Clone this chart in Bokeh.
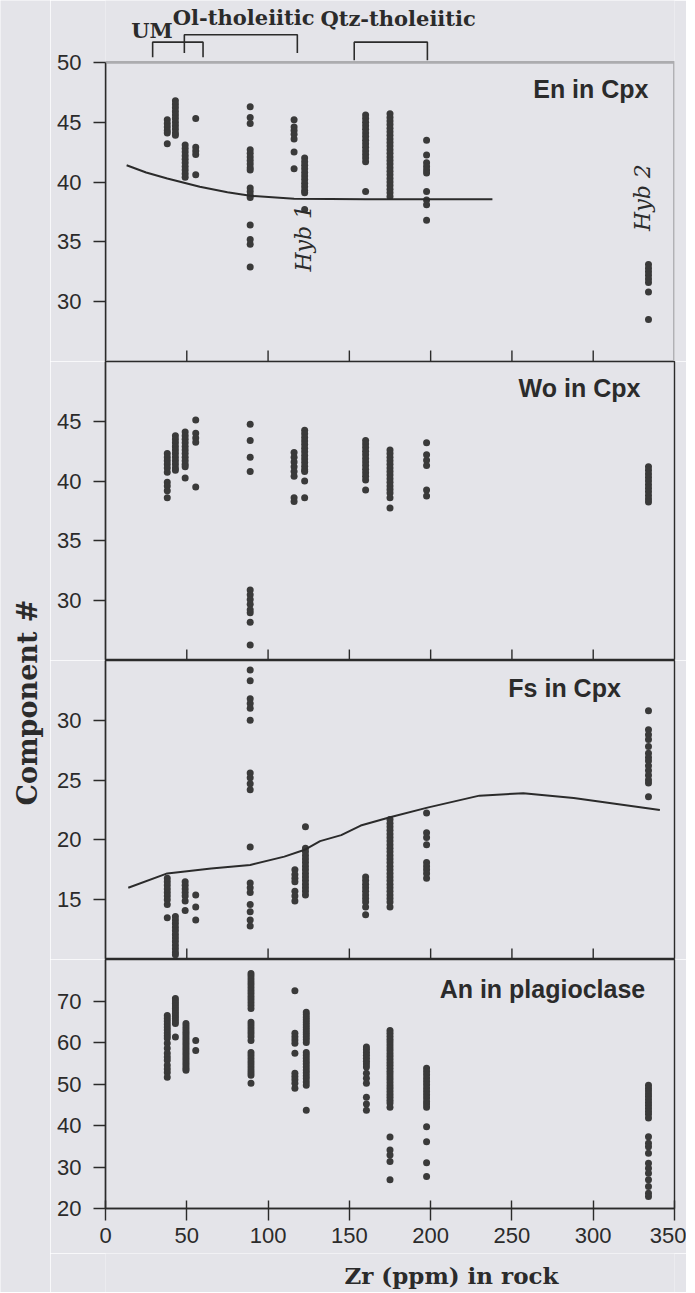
import math
from bokeh.plotting import figure
from bokeh.layouts import column, row
from bokeh.models import Range1d, FixedTicker, Label, BoxAnnotation
from bokeh.embed import file_html
from bokeh.resources import INLINE
from bokeh.core.properties import value

# ---------------- data ----------------
x_ticks = [0, 50, 100, 150, 200, 250, 300, 350]
en_ticks = [30, 35, 40, 45, 50]
wo_ticks = [30, 35, 40, 45]
fs_ticks = [15, 20, 25, 30]
an_ticks = [20, 30, 40, 50, 60, 70]

groups = ["UM", "Ol-tholeiitic", "Qtz-tholeiitic"]
group_zr_lo = [29, 48.5, 153]
group_zr_hi = [60, 118, 198]

# En in Cpx: Zr of each sample column, and its values
en_zr = [38, 43, 49, 55.5, 89, 116, 122.5, 160, 175, 197.5, 334]
en_vals = [
    [45.2, 44.9, 44.6, 44.3, 44.1, 43.2],
    [46.8, 46.5, 46.2, 45.9, 45.6, 45.3, 45.0, 44.7, 44.4, 44.1, 43.9],
    [43.1, 42.8, 42.5, 42.2, 41.9, 41.6, 41.3, 41.0, 40.7, 40.4],
    [45.3, 42.9, 42.6, 42.3, 40.6],
    [46.3, 45.4, 44.9, 42.7, 42.4, 42.1, 41.8, 41.5, 41.2, 41.0, 39.5, 39.2, 38.9, 38.7, 36.4, 35.2, 34.8, 32.9],
    [45.2, 44.6, 44.3, 44.0, 43.6, 42.5, 41.1],
    [42.0, 41.7, 41.4, 41.1, 40.8, 40.5, 40.2, 39.9, 39.6, 39.3, 39.1, 37.7],
    [45.6, 45.3, 45.0, 44.7, 44.4, 44.1, 43.8, 43.5, 43.2, 42.9, 42.6, 42.3, 42.0, 41.7, 39.2],
    [45.7, 45.4, 45.1, 44.8, 44.5, 44.2, 43.9, 43.6, 43.3, 43.0, 42.7, 42.4, 42.1, 41.8, 41.5, 41.2,
     40.9, 40.6, 40.3, 40.0, 39.7, 39.4, 39.1, 38.8],
    [43.5, 42.25, 41.6, 41.3, 41.0, 40.75, 39.2, 38.5, 38.1, 36.8],
    [33.1, 32.8, 32.5, 32.2, 31.9, 31.6, 30.8, 28.5],
]
en_curve_zr = [13, 25, 38, 58, 75, 89, 116, 160, 238]
en_curve_val = [41.4, 40.8, 40.3, 39.6, 39.15, 38.85, 38.6, 38.55, 38.55]

# Wo in Cpx
wo_zr = [38, 43, 49, 55.5, 89, 116, 122.5, 160, 175, 197.5, 334]
wo_vals = [
    [42.3, 42.0, 41.7, 41.4, 41.1, 40.75, 39.9, 39.6, 39.2, 38.6],
    [43.8, 43.5, 43.2, 42.9, 42.6, 42.3, 42.0, 41.7, 41.4, 41.1, 40.9],
    [44.1, 43.8, 43.5, 43.2, 42.9, 42.6, 42.3, 42.0, 41.7, 41.4, 41.2, 40.25],
    [45.1, 44.0, 43.6, 43.25, 39.5],
    [44.75, 43.4, 42.0, 40.8, 30.9, 30.5, 30.1, 29.7, 29.25, 29.0, 28.2, 26.3],
    [42.4, 42.0, 41.6, 41.2, 40.8, 40.4, 38.6, 38.3],
    [44.25, 43.95, 43.65, 43.35, 43.05, 42.75, 42.45, 42.15, 41.85, 41.55, 41.25, 40.95, 40.8, 40.0, 38.6],
    [43.4, 43.1, 42.8, 42.5, 42.2, 41.9, 41.6, 41.3, 41.0, 40.7, 40.4, 40.1, 39.25],
    [42.6, 42.3, 42.0, 41.7, 41.4, 41.1, 40.8, 40.5, 40.2, 39.9, 39.6, 39.3, 39.0, 38.6, 37.75],
    [43.2, 42.2, 41.75, 41.3, 39.25, 38.75],
    [41.2, 40.9, 40.6, 40.3, 40.0, 39.7, 39.4, 39.1, 38.8, 38.5, 38.25],
]

# Fs in Cpx
fs_zr = [38, 43, 49, 55.5, 89, 116.5, 123, 160, 175, 197.5, 334]
fs_vals = [
    [16.8, 16.5, 16.2, 15.9, 15.6, 15.3, 15.0, 14.6, 13.5],
    [13.6, 13.3, 13.0, 12.7, 12.4, 12.1, 11.8, 11.5, 11.2, 10.9, 10.6, 10.4],
    [16.5, 16.2, 15.9, 15.6, 15.3, 14.9, 14.1],
    [15.4, 14.4, 13.3],
    [34.2, 33.3, 31.8, 31.4, 31.0, 30.0, 25.6, 25.2, 24.7, 24.2, 19.4, 16.4, 16.0, 15.6, 14.6, 14.0, 13.3, 12.8],
    [17.5, 17.1, 16.8, 16.5, 15.7, 15.3, 14.9],
    [21.1, 19.3, 19.0, 18.7, 18.4, 18.1, 17.8, 17.5, 17.2, 16.9, 16.6, 16.3, 16.0, 15.7, 15.4],
    [16.9, 16.6, 16.3, 16.0, 15.7, 15.4, 15.1, 14.8, 14.4, 13.75],
    [21.7, 21.4, 21.1, 20.8, 20.5, 20.2, 19.9, 19.6, 19.3, 19.0, 18.7, 18.4, 18.1, 17.8, 17.5, 17.2,
     16.9, 16.6, 16.3, 16.0, 15.7, 15.4, 15.1, 14.8, 14.4],
    [22.25, 20.6, 20.2, 19.6, 18.1, 17.8, 17.5, 17.2, 16.8],
    [30.8, 29.2, 28.8, 28.4, 27.8, 27.25, 26.9, 26.6, 26.2, 25.8, 25.4, 25.0, 24.75, 23.6],
]
fs_curve_zr = [14, 38, 65, 89, 110, 123, 132, 145, 157, 175, 198, 230, 257, 288, 341]
fs_curve_val = [16.0, 17.2, 17.6, 17.9, 18.6, 19.2, 19.9, 20.4, 21.2, 21.9, 22.7, 23.7, 23.9, 23.5, 22.5]

# An in plagioclase
an_zr = [38, 43, 49.5, 55.5, 89.5, 116.5, 123.5, 160.5, 175, 197.5, 334]
an_vals = [
    [66.5, 65.8, 65.1, 64.4, 63.7, 63.0, 62.3, 61.6, 61.0, 59.8, 58.6, 57.4, 56.5, 55.7, 54.5, 53.6, 52.8, 51.6],
    [70.6, 70.0, 69.4, 68.8, 68.2, 67.6, 67.0, 66.4, 65.8, 65.2, 64.6, 61.3],
    [64.6, 64.0, 63.4, 62.8, 62.2, 61.6, 61.0, 60.4, 59.8, 59.2, 58.6, 58.0, 57.4, 56.8, 56.2, 55.6,
     55.0, 54.4, 53.8, 53.3],
    [60.5, 58.1],
    [76.6, 76.0, 75.3, 74.6, 73.9, 73.2, 72.5, 71.8, 71.1, 70.4, 69.7, 69.0, 68.2, 64.9, 64.2, 63.5,
     62.8, 62.1, 61.4, 60.5, 57.6, 56.9, 56.2, 55.5, 54.8, 54.1, 53.4, 52.7, 52.1, 50.2],
    [72.5, 62.2, 61.4, 60.6, 59.8, 57.4, 52.6, 51.8, 51.0, 50.2, 49.0],
    [67.3, 66.7, 66.1, 65.5, 64.9, 64.3, 63.7, 63.1, 62.5, 61.9, 61.3, 60.7, 60.0, 57.6, 56.9, 56.2,
     55.5, 54.8, 54.1, 53.4, 52.7, 52.0, 51.3, 50.5, 49.7, 43.7],
    [58.9, 58.3, 57.6, 56.9, 56.2, 55.5, 54.8, 54.1, 52.6, 51.4, 50.2, 46.8, 45.2, 43.7],
    [62.9, 62.2, 61.5, 60.8, 60.1, 59.4, 58.7, 58.0, 57.3, 56.6, 55.9, 55.2, 54.5, 53.8, 53.1, 52.4,
     51.7, 51.0, 50.3, 49.6, 48.9, 48.2, 47.5, 46.8, 46.1, 45.4, 44.4, 37.2, 34.1, 32.9, 31.3, 26.9],
    [53.8, 53.0, 52.2, 51.4, 50.6, 49.8, 49.0, 48.2, 47.4, 46.6, 45.8, 45.1, 44.4, 39.7, 36.1, 31.0, 27.7],
    [49.7, 49.0, 48.3, 47.6, 46.9, 46.2, 45.5, 44.8, 44.1, 43.4, 42.7, 41.8, 37.3, 35.7, 34.9, 33.3,
     30.9, 29.7, 28.5, 26.9, 25.3, 23.7, 22.9],
]

# ---------------- styling / layout ----------------
BG = "#e4e4e9"
INK = "#2b2b2b"
DOT = "#3a3a3a"
SANS = "Liberation Sans"
SERIF = "DejaVu Serif"
LW = 1.4

STRIP = 50                    # narrow strip at the left holding the y title
LEFT, RIGHT, FRAME_W = 55, 12, 569
W = LEFT + FRAME_W + RIGHT
xr = Range1d(0, 350)


def expand(zr, vals):
    xs, ys = [], []
    for z, v in zip(zr, vals):
        xs += [z] * len(v)
        ys += v
    return xs, ys


def base(width, height, xrange, yrange, **kw):
    p = figure(width=width, height=height, x_range=xrange, y_range=yrange,
               output_backend="svg", toolbar_location=None, **kw)
    p.background_fill_color = BG
    p.border_fill_color = BG
    p.grid.visible = False
    return p


def panel(yr, ticks, frame_h, bottom=0, xaxis=False, outline=True):
    p = base(W, frame_h + bottom, xr, Range1d(*yr),
             x_axis_type="linear" if xaxis else None,
             min_border_left=LEFT, min_border_right=RIGHT,
             min_border_top=0, min_border_bottom=bottom)
    p.outline_line_color = INK if outline else None
    p.outline_line_width = LW
    ya = p.yaxis[0]
    ya.ticker = FixedTicker(ticks=ticks)
    ya.minor_tick_line_color = None
    ya.major_tick_out = 12
    ya.major_tick_in = 0
    ya.major_label_standoff = 12
    ya.major_label_text_font = SANS
    ya.major_label_text_font_size = "22px"
    ya.major_label_text_color = INK
    ya.axis_line_color = INK
    ya.axis_line_width = LW
    ya.major_tick_line_color = INK
    ya.major_tick_line_width = LW
    if not xaxis:
        sep = [t for t in x_ticks if 0 < t < 350]
        p.scatter(x=sep, y=[yr[0]] * len(sep), marker="dash", angle=math.pi / 2,
                  size=22, line_color=INK, line_width=LW)
    return p


def dots(p, zr, vals):
    xs, ys = expand(zr, vals)
    p.scatter(x=xs, y=ys, size=7, fill_color=DOT, line_color=None)


def title(p, text, x, y, size="25px"):
    p.add_layout(Label(x=x, y=y, text=text, text_font=SANS, text_font_style="bold",
                       text_font_size=size, text_color=INK, text_align="right",
                       text_baseline="middle"))


def hyb(p, text, x, y):
    p.add_layout(Label(x=x, y=y, text=text, text_font=SERIF, text_font_style="italic",
                       text_font_size="22px", text_color=INK, text_align="center",
                       text_baseline="middle", angle=math.pi / 2))


# --- En panel; its frame also holds the group brackets above y = 50
EN_TOP = 55.17
p1 = panel((25, EN_TOP), en_ticks, 361, outline=False)
p1.yaxis[0].bounds = (25, 50)
p1.add_layout(BoxAnnotation(left=0, right=350, bottom=25, top=50, fill_color=None,
                            line_color=INK, line_width=2 * LW))
dots(p1, en_zr, en_vals)
p1.line(en_curve_zr, en_curve_val, line_color=INK, line_width=2)
title(p1, "En in Cpx", 334, 47.75)
hyb(p1, "Hyb 1", 121.8, 35.3)
hyb(p1, "Hyb 2", 330.3, 38.7)

br_top = [51.69, 52.31, 51.69]
br_leg = [50.42, 50.78, 50.17]
lab_x = [28.6, 85, 180]
lab_y = [52.67, 53.71, 53.67]
p1.multi_line(xs=[[lo, lo, hi, hi] for lo, hi in zip(group_zr_lo, group_zr_hi)],
              ys=[[b, t, t, b] for t, b in zip(br_top, br_leg)],
              line_color=INK, line_width=1.6)
p1.text(x=lab_x, y=lab_y, text=groups, text_font=value(SERIF), text_font_style="bold",
        text_font_size="21px", text_color=INK, text_align="center", text_baseline="middle")

# --- Wo panel
p2 = panel((25, 50), wo_ticks, 299)
dots(p2, wo_zr, wo_vals)
title(p2, "Wo in Cpx", 329, 47.75)

# --- Fs panel
p3 = panel((10, 35), fs_ticks, 299)
dots(p3, fs_zr, fs_vals)
p3.line(fs_curve_zr, fs_curve_val, line_color=INK, line_width=2)
title(p3, "Fs in Cpx", 317, 32.67)

# --- An panel with the Zr axis
p4 = panel((20, 80), an_ticks, 249, bottom=45, xaxis=True)
dots(p4, an_zr, an_vals)
title(p4, "An in plagioclase", 332, 73.0)
xa = p4.xaxis[0]
xa.ticker = FixedTicker(ticks=x_ticks)
xa.minor_tick_line_color = None
xa.major_tick_in = 8
xa.major_tick_out = 12
xa.major_label_standoff = 7
xa.major_label_text_font = SANS
xa.major_label_text_font_size = "22px"
xa.major_label_text_color = INK
xa.axis_line_color = INK
xa.axis_line_width = LW
xa.major_tick_line_color = INK
xa.major_tick_line_width = LW

# --- x title strip
BOT_H = 39
pb = base(W, BOT_H, xr, Range1d(0, BOT_H), x_axis_type=None, y_axis_type=None,
          min_border_left=LEFT, min_border_right=RIGHT, min_border_top=0, min_border_bottom=0)
pb.outline_line_color = None
pb.text(x=[212.8], y=[17], text=["Zr (ppm) in rock"], text_font=value(SERIF),
        text_font_style="bold", text_font_size="23px", text_color=INK,
        text_align="center", text_baseline="middle")

# --- y title strip
TOTAL_H = 361 + 299 + 299 + 249 + 45 + BOT_H
pl = base(STRIP, TOTAL_H, Range1d(0, STRIP), Range1d(0, TOTAL_H), x_axis_type=None,
          y_axis_type=None, min_border=0)
pl.outline_line_color = None
pl.text(x=[27], y=[TOTAL_H - 702], text=["Component #"], text_font=value(SERIF),
        text_font_style="bold", text_font_size="27px", text_color=INK,
        text_align="center", text_baseline="middle", angle=math.pi / 2)

layout = row(pl, column(p1, p2, p3, p4, pb, spacing=0), spacing=0)
open("out.html", "w").write(file_html(layout, INLINE))
